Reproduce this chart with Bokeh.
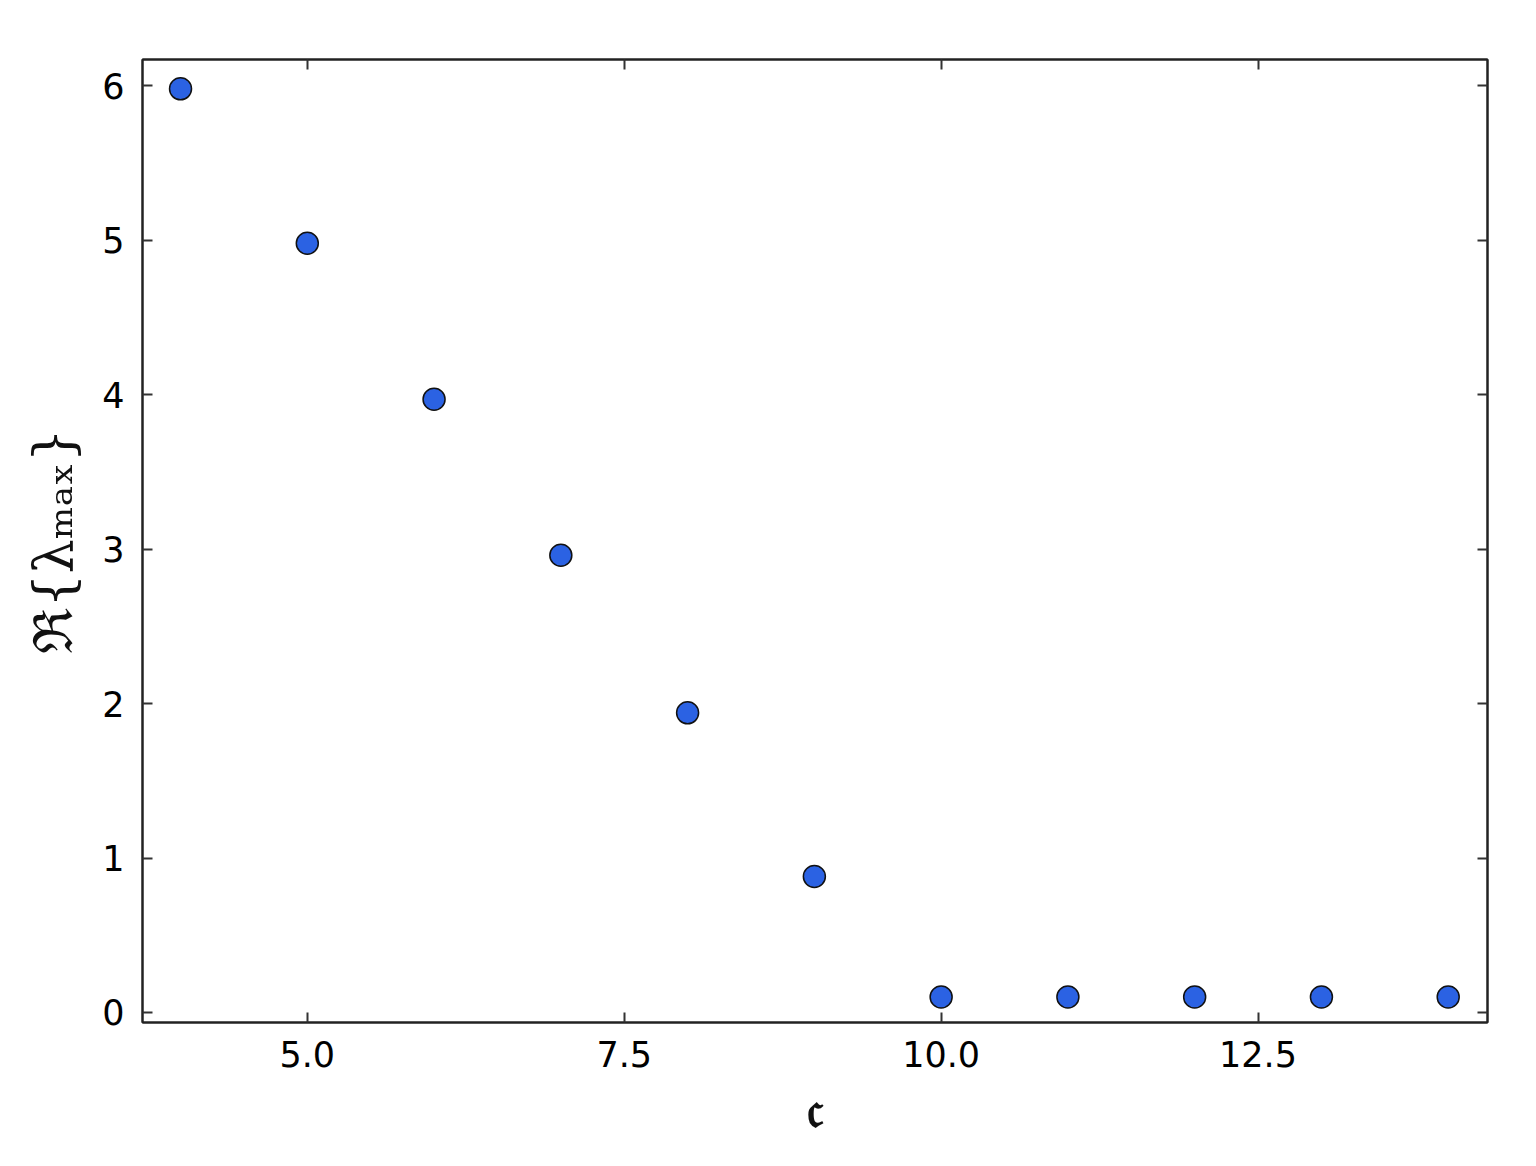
from bokeh.plotting import figure
from bokeh.models import FixedTicker, LinearAxis, Range1d, CustomJSTickFormatter
from bokeh.embed import file_html
from bokeh.resources import INLINE

# data
c_values = [4, 5, 6, 7, 8, 9, 10, 11, 12, 13, 14]
re_lambda_max = [5.98, 4.98, 3.97, 2.96, 1.94, 0.88, 0.10, 0.10, 0.10, 0.10, 0.10]
x_ticks = [5.0, 7.5, 10.0, 12.5]
y_ticks = [0, 1, 2, 3, 4, 5, 6]

p = figure(width=1520, height=1150, output_backend="svg", toolbar_location=None,
           x_range=Range1d(3.70, 14.31), y_range=Range1d(-0.065, 6.17))
p.min_border_left = 142
p.min_border_right = 33
p.min_border_top = 59
p.min_border_bottom = 128
p.grid.visible = False
p.background_fill_color = "white"
p.border_fill_color = "white"
p.outline_line_color = "#222222"
p.outline_line_width = 2

p.scatter(c_values, re_lambda_max, size=22, fill_color="#2b62e3",
          line_color="#111111", line_width=1.5)

def style(ax, labels=True):
    ax.major_tick_in = 10
    ax.major_tick_out = 0
    ax.minor_tick_in = 0
    ax.minor_tick_out = 0
    ax.major_tick_line_color = "#333333"
    ax.major_tick_line_width = 2
    ax.axis_line_color = "#222222"
    ax.axis_line_width = 2
    ax.major_label_text_font = "DejaVu Sans"
    ax.major_label_text_font_size = "35px"
    ax.major_label_text_color = "#000000"
    if not labels:
        ax.major_label_text_font_size = "0px"
        ax.major_label_text_alpha = 0

xa = p.xaxis[0]
ya = p.yaxis[0]
xa.ticker = FixedTicker(ticks=x_ticks)
ya.ticker = FixedTicker(ticks=y_ticks)
xa.formatter = CustomJSTickFormatter(code="return tick.toFixed(1);")
style(xa)
style(ya)
xa.major_label_standoff = 18
ya.major_label_standoff = 18

xa.axis_label = "𝔠"
xa.axis_label_text_font = "DejaVu Serif"
xa.axis_label_text_font_size = "52px"
xa.axis_label_text_font_style = "bold"
xa.axis_label_text_color = "#111111"
xa.axis_label_standoff = 8

ya.axis_label = "ℜ{λₘₐₓ}"
ya.axis_label_text_font = "DejaVu Serif"
ya.axis_label_text_font_size = "54px"
ya.axis_label_text_font_style = "normal"
ya.axis_label_text_color = "#111111"
ya.axis_label_standoff = 14

top = LinearAxis(ticker=FixedTicker(ticks=x_ticks))
right = LinearAxis(ticker=FixedTicker(ticks=y_ticks))
style(top, labels=False)
style(right, labels=False)
p.add_layout(top, "above")
p.add_layout(right, "right")

open("out.html", "w").write(file_html(p, INLINE))
